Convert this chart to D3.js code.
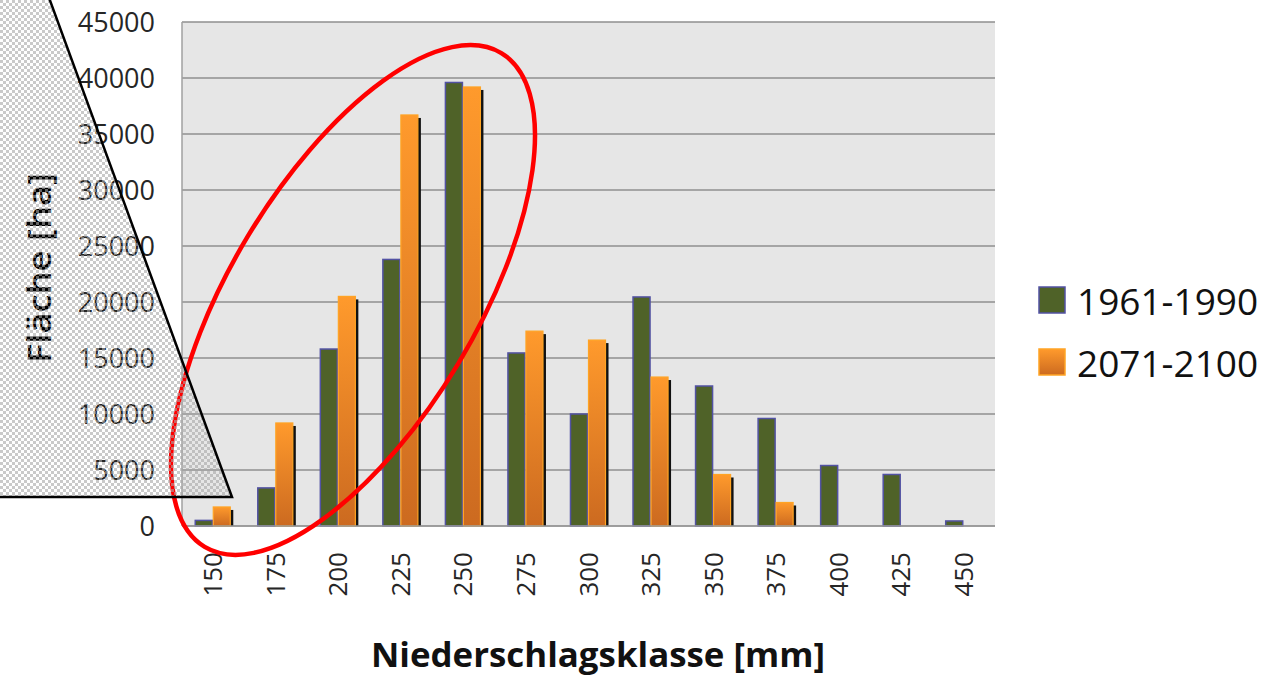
<!DOCTYPE html>
<html><head><meta charset="utf-8">
<script src="https://cdn.jsdelivr.net/npm/d3@7/dist/d3.min.js"></script>
<style>html,body{margin:0;padding:0;background:#fff;overflow:hidden}svg{display:block}</style>
</head><body>
<svg id="c" width="1279" height="689"></svg>
<script>
const categories = ["150","175","200","225","250","275","300","325","350","375","400","425","450"];
const series1961 = [500, 3400, 15800, 23800, 39600, 15450, 10000, 20450, 12500, 9600, 5400, 4600, 450];
const series2071 = [1700, 9200, 20500, 36700, 39200, 17400, 16600, 13300, 4600, 2100, 0, 0, 0];
const yTicks = [0,5000,10000,15000,20000,25000,30000,35000,40000,45000];
const seriesNames = ["1961-1990","2071-2100"];

const svg = d3.select("#c");
const defs = svg.append("defs");
const grad = defs.append("linearGradient").attr("id","og").attr("x1",0).attr("y1",0).attr("x2",0).attr("y2",1);
grad.append("stop").attr("offset","0%").attr("stop-color","#ff9a2c");
grad.append("stop").attr("offset","100%").attr("stop-color","#cc6a20");
const pat = defs.append("pattern").attr("id","chk").attr("width",6).attr("height",6).attr("patternUnits","userSpaceOnUse");
pat.append("rect").attr("width",3).attr("height",3).attr("fill","#a6a6a6").attr("opacity",0.6);
pat.append("rect").attr("x",3).attr("y",3).attr("width",3).attr("height",3).attr("fill","#a6a6a6").attr("opacity",0.6);

const L=182, R=995, T=22, B=526;
const x = d3.scaleBand().domain(categories).range([L,R]).paddingInner(0.424).paddingOuter(0.212);
const xs = d3.scaleBand().domain(seriesNames).range([0,x.bandwidth()]);
const y = d3.scaleLinear().domain([0,45000]).range([B,T]);

svg.append("rect").attr("x",L).attr("y",T).attr("width",R-L).attr("height",B-T).attr("fill","#e6e6e6");
svg.append("g").selectAll("line").data(yTicks).join("line")
  .attr("x1",L).attr("x2",R).attr("y1",d=>y(d)).attr("y2",d=>y(d))
  .attr("stroke","#8f8f8f").attr("stroke-width",1.5);
svg.append("line").attr("x1",L).attr("x2",L).attr("y1",T).attr("y2",B).attr("stroke","#a0a0a0").attr("stroke-width",1.5);

// y tick labels
svg.append("g").selectAll("text").data(yTicks).join("text")
  .attr("x",155).attr("y",d=>y(d)).attr("dy","0.36em").attr("text-anchor","end")
  .attr("font-family","Open Sans").attr("font-size",27).attr("fill","#262626").text(d=>d);

// x tick labels
svg.append("g").selectAll("text").data(categories).join("text")
  .attr("transform",d=>`translate(${x(d)+x.bandwidth()/2+9},552) rotate(-90)`)
  .attr("text-anchor","end").attr("font-family","Open Sans").attr("font-size",26).attr("fill","#262626").text(d=>d);

// bars 1961
svg.append("g").selectAll("rect").data(categories.map((c,i)=>({c,v:series1961[i]}))).join("rect")
  .attr("x",d=>x(d.c)+xs(seriesNames[0])).attr("width",xs.bandwidth()-1)
  .attr("y",d=>y(d.v)).attr("height",d=>B-y(d.v))
  .attr("fill","#4f6228").attr("stroke","#5252a3").attr("stroke-width",1.5);
// bars 2071 shadows
const d2 = categories.map((c,i)=>({c,v:series2071[i]})).filter(d=>d.v>0);
svg.append("g").selectAll("rect").data(d2).join("rect")
  .attr("x",d=>x(d.c)+xs(seriesNames[1])+3).attr("width",xs.bandwidth()-1)
  .attr("y",d=>y(d.v)+3).attr("height",d=>B-y(d.v)-3).attr("fill","#111");
svg.append("g").selectAll("rect").data(d2).join("rect")
  .attr("x",d=>x(d.c)+xs(seriesNames[1])).attr("width",xs.bandwidth()-1)
  .attr("y",d=>y(d.v)).attr("height",d=>B-y(d.v))
  .attr("fill","url(#og)").attr("stroke","#ffa424").attr("stroke-width",1.2);

svg.append("line").attr("x1",L).attr("x2",R).attr("y1",B).attr("y2",B).attr("stroke","#9a9a9a").attr("stroke-width",1.5);

// axis titles
svg.append("text").attr("x",598).attr("y",667).attr("text-anchor","middle")
  .attr("font-family","Open Sans").attr("font-weight","bold").attr("font-size",34)
  .attr("textLength",454).attr("lengthAdjust","spacingAndGlyphs").attr("fill","#111").text("Niederschlagsklasse [mm]");
svg.append("text").attr("transform","translate(51,268) rotate(-90)").attr("text-anchor","middle")
  .attr("font-family","Open Sans").attr("font-weight",600).attr("font-size",33).attr("textLength",190).attr("lengthAdjust","spacingAndGlyphs")
  .attr("fill","#000").text("Fläche [ha]");

// legend
const lg = svg.append("g");
seriesNames.forEach((n,i)=>{
  const yy = 287 + i*62;
  lg.append("rect").attr("x",1039).attr("y",yy).attr("width",26).attr("height",26)
    .attr("fill", i===0?"#4f6228":"url(#og)").attr("stroke", i===0?"#5252a3":"#ffa424").attr("stroke-width",1.5);
  lg.append("text").attr("x",1077).attr("y",yy+28).attr("font-family","Open Sans").attr("font-size",37)
    .attr("fill","#111").text(n);
});

// red ellipse annotation
svg.append("ellipse").attr("cx",353).attr("cy",300).attr("rx",288).attr("ry",123)
  .attr("transform","rotate(-59,353,300)").attr("fill","none").attr("stroke","#ff0000").attr("stroke-width",4.5);

// checker overlay triangle
svg.append("path").attr("d","M-5,-5 L48,-5 L232,497 L-5,497 Z").attr("fill","url(#chk)");
svg.append("path").attr("d","M48,-5 L232,497 L-5,497").attr("fill","none").attr("stroke","#000").attr("stroke-width",2.5);
</script>
</body></html>
